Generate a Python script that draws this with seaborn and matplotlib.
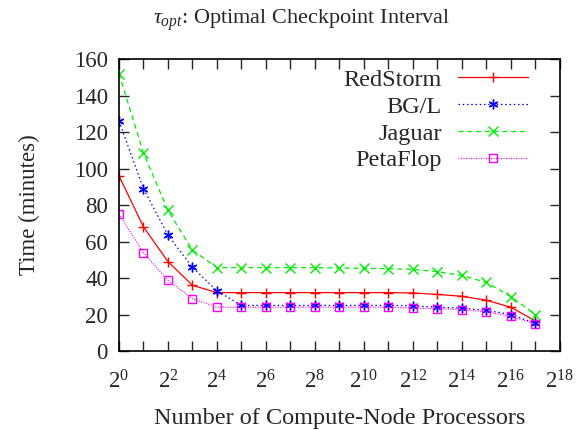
import numpy as np
import pandas as pd
import matplotlib
matplotlib.use("Agg")
import matplotlib.pyplot as plt
import seaborn as sns
from matplotlib.ticker import FixedLocator, FuncFormatter, NullFormatter

exponents = list(range(0, 18))
redstorm = [96, 68, 49, 36, 32, 32, 32, 32, 32, 32, 32, 32, 31.8, 31, 30, 27.8, 24, 16.5]
bgl      = [126, 89, 63.5, 45.8, 33, 25, 25, 25, 25, 25, 25, 25, 24.8, 24, 23.5, 22.3, 20, 15.2]
jaguar   = [152, 108.5, 77, 55.3, 45.7, 45.7, 45.7, 45.7, 45.7, 45.5, 45.3, 45.1, 44.7, 43.5, 41.4, 37.6, 29.8, 20]
petaflop = [75, 53.8, 38.7, 28.7, 24, 24, 24, 24, 24, 24, 24, 24, 23.6, 23.2, 22.7, 21.5, 19, 14.8]

series_names = ["RedStorm", "BG/L", "Jaguar", "PetaFlop"]
series_vals = [redstorm, bgl, jaguar, petaflop]
colors = ["#ff0000", "#0000ff", "#00ee00", "#ff00ff"]
linestyles = ["-", (0, (1.2, 2.2)), (0, (4, 3)), (0, (0.8, 1.2))]
markers = ["+", (6, 2, 0), "x", "s"]

sns.set_style("ticks")
plt.rcParams["font.family"] = ["Liberation Serif", "DejaVu Serif"]
plt.rcParams["mathtext.fontset"] = "custom"
plt.rcParams["mathtext.rm"] = "Liberation Serif"
plt.rcParams["mathtext.it"] = "Liberation Serif:italic"

fig = plt.figure(figsize=(5.85, 4.3), dpi=100)
ax = fig.add_axes([0.2034, 0.1837, 0.7536, 0.679])

for name, vals, c, ls, mk in zip(series_names, series_vals, colors, linestyles, markers):
    df = pd.DataFrame({"x": [2.0 ** e for e in exponents], "y": vals})
    sns.lineplot(data=df, x="x", y="y", ax=ax, color=c, linestyle=ls, linewidth=0.9,
                 marker=mk, markersize=7 if mk != "s" else 6,
                 markerfacecolor="none" if mk == "s" else c,
                 markeredgecolor=c, markeredgewidth=1.0, label=name)

ax.set_xscale("log", base=2)
ax.set_xlim(1, 2 ** 18)
ax.set_ylim(0, 160)
ax.xaxis.set_major_locator(FixedLocator([2.0 ** e for e in range(0, 19, 2)]))
ax.xaxis.set_major_formatter(FuncFormatter(lambda v, p: r"$\mathregular{2^{%d}}$" % round(np.log2(v))))
ax.xaxis.set_minor_locator(FixedLocator([2.0 ** e for e in range(1, 19, 2)]))
ax.xaxis.set_minor_formatter(NullFormatter())
ax.set_yticks(range(0, 161, 20))

for s in ax.spines.values():
    s.set_visible(True)
    s.set_linewidth(1.2)
    s.set_color("black")
ax.tick_params(which="both", direction="in", top=True, right=True, labelsize=16.5, width=1.0)
ax.tick_params(which="both", length=7)
ax.tick_params(axis="x", pad=14)
ax.tick_params(axis="y", pad=8)

ax.set_xlabel("Number of Compute-Node Processors", fontsize=17.5, labelpad=10)
ax.set_ylabel("Time (minutes)", fontsize=16.5, labelpad=24)
fig.text(302 / 585, 1 - 20 / 430, r"$\tau_{opt}$: Optimal Checkpoint Interval",
         fontsize=16, ha="center", va="center")

leg = ax.legend(loc="upper right", frameon=False, markerfirst=False, fontsize=17.5,
                handlelength=2.9, labelspacing=0.2, borderaxespad=0.9, handletextpad=0.65,
                bbox_to_anchor=(1.0, 1.075))

fig.savefig("out.png", dpi=100)
